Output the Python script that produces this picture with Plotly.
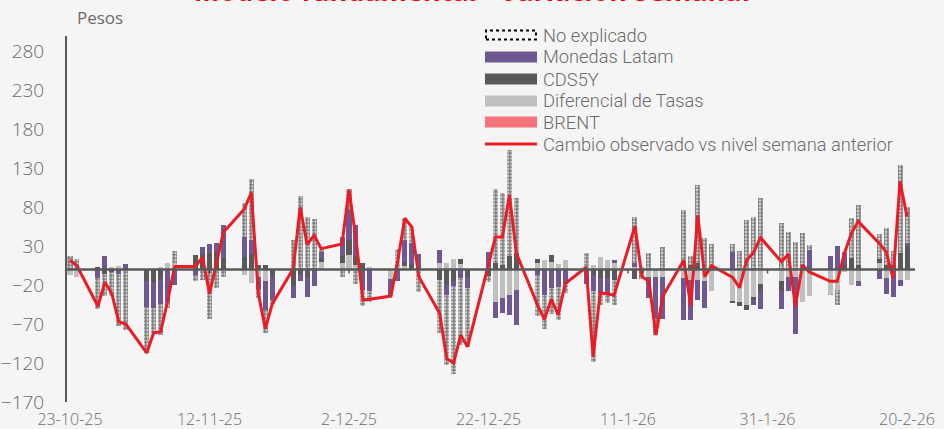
import plotly.graph_objects as go

# ---------------- data ----------------
dates = [
    "2025-10-23", "2025-10-24",
    "2025-10-27", "2025-10-28", "2025-10-29", "2025-10-30", "2025-10-31",
    "2025-11-03", "2025-11-04", "2025-11-05", "2025-11-06", "2025-11-07",
    "2025-11-10", "2025-11-11", "2025-11-12", "2025-11-13", "2025-11-14",
    "2025-11-17", "2025-11-18", "2025-11-19", "2025-11-20", "2025-11-21",
    "2025-11-24", "2025-11-25", "2025-11-26", "2025-11-27", "2025-11-28",
    "2025-12-01", "2025-12-02", "2025-12-03", "2025-12-04", "2025-12-05",
    "2025-12-08", "2025-12-09", "2025-12-10", "2025-12-11", "2025-12-12",
    "2025-12-15", "2025-12-16", "2025-12-17", "2025-12-18", "2025-12-19",
    "2025-12-22", "2025-12-23", "2025-12-24", "2025-12-25", "2025-12-26",
    "2025-12-29", "2025-12-30", "2025-12-31", "2026-01-01", "2026-01-02",
    "2026-01-05", "2026-01-06", "2026-01-07", "2026-01-08", "2026-01-09",
    "2026-01-12", "2026-01-13", "2026-01-14", "2026-01-15", "2026-01-16",
    "2026-01-19", "2026-01-20", "2026-01-21", "2026-01-22", "2026-01-23",
    "2026-01-26", "2026-01-27", "2026-01-28", "2026-01-29", "2026-01-30",
    "2026-02-02", "2026-02-03", "2026-02-04", "2026-02-05", "2026-02-06",
    "2026-02-09", "2026-02-10", "2026-02-11", "2026-02-12", "2026-02-13",
    "2026-02-16", "2026-02-17", "2026-02-18", "2026-02-19", "2026-02-20",
]

cambio_observado = [
    12, 5,
    -47, -16, -31, -67, -70,
    -107, -81, -80, -40, 4,
    4, 16, -31, 10, 48,
    78, 99, -31, -76, -44,
    1, 80, 32, 44, 27,
    33, 103, 39, -39, -38,
    -34, 12, 66, 55, -9,
    -56, -114, -120, -84, -99,
    6, 42, 42, 96, 21,
    -45, -64, -38, -58, -18,
    3, -112, -30, -31, -33,
    56, -9, -15, -84, -34,
    12, -47, 70, -9, 5,
    -10, -23, 12, 22, 41,
    10, 20, -47, 6, -3,
    -15, -15, 20, 46, 62,
    34, 23, -11, 113, 68,
]

diferencial_tasas = [
    -7, -9,
    0, 0, 3, 5, 0,
    0, 0, 4, 9, 8,
    0, 0, 0, 0, 0,
    -7, -17, -10, -14, 0,
    0, 0, 0, 0, 10,
    8, 19, 6, 0, 4,
    -12, 0, 5, 0, -3,
    8, 8, 14, 7, 0,
    0, -41, -37, -33, -26,
    8, 12, 10, 7, 12,
    0, 6, 16, 12, 9,
    4, 3, -9, -9, -10,
    -11, -13, -13, -15, -28,
    -41, -41, -45, -35, -18,
    -15, -9, -9, -41, -34,
    -31, -26, -3, -20, -15,
    8, -11, 0, -13, -13,
]

cds5y = [
    0, 0,
    3, -5, -3, 0, 0,
    -15, -17, -12, 0, 0,
    19, 20, 21, 23, 15,
    16, 20, 6, 6, -9,
    -20, -6, -9, 0, 3,
    9, 19, 11, 8, 0,
    0, 0, 5, 7, 0,
    -13, -18, -15, 6, -10,
    -8, 8, 6, 17, 21,
    6, 0, 9, 0, 0,
    0, -8, -11, -11, -13,
    -12, -4, 0, 0, 0,
    0, 6, 8, 0, 0,
    -2, -6, -7, -4, -9,
    -12, 0, 0, 0, 0,
    0, 0, 6, 15, 6,
    6, 6, 6, 21, 30,
]

monedas_latam = [
    0, 0,
    -11, 18, 0, -5, 7,
    -33, -32, -32, -42, -20,
    -7, 9, 12, 11, 42,
    26, 18, -15, -38, -30,
    -17, -9, -26, -21, 10,
    25, 38, 40, -26, -28,
    -20, -15, 28, 27, 20,
    17, -14, -6, -11, -14,
    22, -21, -19, -25, -45,
    -7, -33, -24, -22, -18,
    -18, -20, -19, -19, 3,
    4, 0, -27, -54, -53,
    -54, -52, -26, -34, 0,
    23, 0, 0, -6, -24,
    -23, -19, -74, 0, 25,
    18, 30, 15, 0, -6,
    -12, -20, -35, -8, 4,
]

brent = [
    0, 0,
    0, 0, 0, 0, 0,
    0, 0, 0, 0, 0,
    0, 0, 0, 0, 0,
    0, 0, 0, 0, 0,
    0, 0, 0, 0, 0,
    0, 0, 0, 0, 0,
    0, 0, 0, 0, 0,
    0, 0, 0, 0, 0,
    0, 0, 0, 0, 0,
    0, 0, 0, 0, 0,
    0, 0, 0, 0, 0,
    0, 0, 0, 0, 0,
    0, 0, 0, 0, 0,
    0, 0, 0, 0, 0,
    0, 0, 0, 0, 0,
    0, 0, 0, 0, 0,
    0, 0, 0, 0, 0,
]

no_explicado = [
    18, 14,
    -39, -29, -31, -67, -77,
    -59, -32, -40, -7, 16,
    -8, -13, -64, -24, -9,
    43, 78, -12, -30, -5,
    38, 95, 67, 65, 4,
    -9, 27, -18, -21, -14,
    -2, 27, 28, 21, -26,
    -68, -90, -113, -86, -75,
    -8, 96, 92, 137, 71,
    -52, -43, -33, -43, -12,
    21, -90, -16, -13, -32,
    60, -8, 21, -21, 29,
    77, 12, 101, 40, 33,
    10, 24, 64, 67, 92,
    60, 48, 36, 47, 6,
    -2, -19, 2, 51, 77,
    32, 48, 18, 113, 47,
]

tick_dates = ["2025-10-23", "2025-11-12", "2025-12-02", "2025-12-22",
              "2026-01-11", "2026-01-31", "2026-02-20"]
tick_labels = ["23-10-25", "12-11-25", "2-12-25", "22-12-25",
               "11-1-26", "31-1-26", "20-2-26"]

legend_names = ["No explicado", "Monedas Latam", "CDS5Y",
                "Diferencial de Tasas", "BRENT",
                "Cambio observado vs nivel semana anterior"]

# ---------------- style ----------------
W, H = 944, 429
PL, PR, PT, PB = 67, 915, 36, 402
BG = "#F5F5F5"
C_PURPLE = "#6E5892"
C_DARK = "#595959"
C_LIGHT = "#BFBFBF"
C_BRENT = "#F4727A"
C_LINE = "#EC1C24"
TXT = "#6B6B6B"
FONT = "Open Sans"
LEG_FONT = "Roboto"
BAR_W = 0.72 * 86400000


def px_x(p):
    return (p - PL) / (PR - PL)


def px_y(p):
    return (PB - p) / (PB - PT)


fig = go.Figure()

fig.add_trace(go.Bar(x=dates, y=brent, name=legend_names[4], width=BAR_W,
                     marker=dict(color=C_BRENT, line=dict(width=0)), showlegend=False))
fig.add_trace(go.Bar(x=dates, y=diferencial_tasas, name=legend_names[3], width=BAR_W,
                     marker=dict(color=C_LIGHT, line=dict(width=0)), showlegend=False))
fig.add_trace(go.Bar(x=dates, y=cds5y, name=legend_names[2], width=BAR_W,
                     marker=dict(color=C_DARK, line=dict(width=0)), showlegend=False))
fig.add_trace(go.Bar(x=dates, y=monedas_latam, name=legend_names[1], width=BAR_W,
                     marker=dict(color=C_PURPLE, line=dict(width=0)), showlegend=False))
fig.add_trace(go.Bar(x=dates, y=no_explicado, name=legend_names[0], width=BAR_W,
                     marker=dict(color="rgba(0,0,0,0)", line=dict(width=0),
                                 pattern=dict(shape=".", fgcolor="#000000",
                                              bgcolor="rgba(0,0,0,0)",
                                              size=3.5, solidity=0.7)),
                     showlegend=False))
fig.add_trace(go.Scatter(x=dates, y=cambio_observado, name=legend_names[5],
                         mode="lines", line=dict(color=C_LINE, width=3),
                         showlegend=False))

shapes = []
# zero axis line drawn above the bars
shapes.append(dict(type="line", xref="paper", yref="y", x0=0, x1=1, y0=0, y1=0,
                   line=dict(color=C_DARK, width=2.5), layer="above"))
# small tick marks on the zero axis
for td in tick_dates[1:]:
    shapes.append(dict(type="line", xref="x", yref="y", x0=td, x1=td, y0=0, y1=-5,
                       line=dict(color=C_DARK, width=1.5), layer="below"))

# manual legend
rows = [35, 57, 79, 101, 122, 144]
sym_x0, sym_x1, txt_x = 485, 537, 542
fills = [None, C_PURPLE, C_DARK, C_LIGHT, C_BRENT]
for i, f in enumerate(fills):
    cy = rows[i]
    if f is None:
        shapes.append(dict(type="rect", xref="paper", yref="paper",
                           x0=px_x(sym_x0 + 1), x1=px_x(sym_x1 - 1),
                           y0=px_y(cy + 4.5), y1=px_y(cy - 4.5),
                           line=dict(color="#000000", width=2, dash="dot"),
                           fillcolor="rgba(0,0,0,0)"))
    else:
        shapes.append(dict(type="rect", xref="paper", yref="paper",
                           x0=px_x(sym_x0), x1=px_x(sym_x1),
                           y0=px_y(cy + 5.5), y1=px_y(cy - 5.5),
                           line=dict(width=0), fillcolor=f))
shapes.append(dict(type="line", xref="paper", yref="paper",
                   x0=px_x(sym_x0), x1=px_x(sym_x1),
                   y0=px_y(rows[5]), y1=px_y(rows[5]),
                   line=dict(color=C_LINE, width=3)))

annotations = []
for i, name in enumerate(legend_names):
    annotations.append(dict(text=name, xref="paper", yref="paper",
                            x=px_x(txt_x), y=px_y(rows[i]),
                            xanchor="left", yanchor="middle", showarrow=False,
                            borderpad=0,
                            font=dict(family=LEG_FONT, size=18.3, color=TXT, weight=300)))
annotations.append(dict(text="Pesos", xref="paper", yref="paper",
                        x=px_x(100), y=px_y(17), xanchor="center", yanchor="middle",
                        showarrow=False,
                        font=dict(family=FONT, size=17, color=TXT, weight=400)))
annotations.append(dict(text="Modelo fundamental - Variación Semanal",
                        xref="paper", yref="paper", x=px_x(472), y=px_y(-10),
                        xanchor="center", yanchor="middle", showarrow=False,
                        font=dict(family=FONT, size=27, color="#FF0000", weight=700)))

fig.update_layout(
    width=W, height=H,
    margin=dict(l=PL, r=W - PR, t=PT, b=H - PB, pad=0, autoexpand=False),
    paper_bgcolor=BG, plot_bgcolor=BG,
    barmode="relative", bargap=0,
    showlegend=False,
    font=dict(family=FONT, size=17, color=TXT),
    shapes=shapes, annotations=annotations,
    xaxis=dict(type="date", automargin=False,
               range=["2025-10-22 13:40", "2026-02-21 03:30"],
               tickmode="array", tickvals=tick_dates, ticktext=tick_labels,
               showgrid=False, zeroline=False, showline=False, ticks="",
               ticklabelstandoff=6,
               tickfont=dict(family=FONT, size=16, color=TXT, weight=300)),
    yaxis=dict(range=[-170, 300], tick0=-170, dtick=50, tickmode="linear",
               automargin=False,
               showgrid=False, zeroline=False,
               showline=True, linecolor=C_DARK, linewidth=2,
               ticks="", ticklabelstandoff=17,
               tickfont=dict(family=FONT, size=19, color=TXT, weight=300)),
)

fig.write_html("out.html", config={"displayModeBar": False},
               post_script="document.body.style.margin='0';")
